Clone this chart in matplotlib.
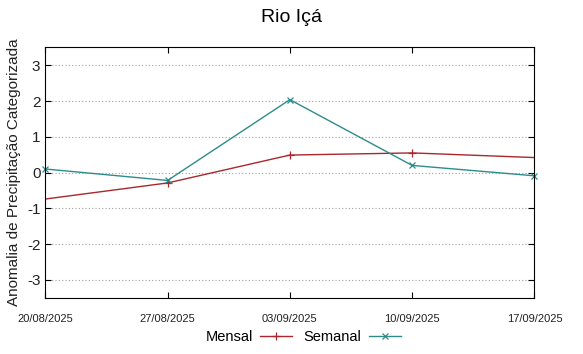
import matplotlib
matplotlib.use('Agg')
import matplotlib.pyplot as plt
import pandas as pd

font = {'family': 'Liberation Sans', 'size': 11}
matplotlib.rc('font', **font)
matplotlib.rcParams['axes.unicode_minus'] = False

datas = ['2025-08-20', '2025-08-27', '2025-09-03', '2025-09-10', '2025-09-17']
rotulos = ['20/08/2025', '27/08/2025', '03/09/2025', '10/09/2025', '17/09/2025']
mensal = [-0.74, -0.29, 0.49, 0.55, 0.42]
semanal = [0.10, -0.22, 2.04, 0.20, -0.09]

x = pd.to_datetime(datas)

fig = plt.figure(figsize=(5.83, 3.54), dpi=100)
ax = fig.add_axes([0.0777, 0.159, 0.839, 0.707])

ax.plot(x, mensal, color='#a8282e', linewidth=1, marker='+', markersize=6,
        markeredgewidth=0.9, markevery=[1, 2, 3], label='Mensal')
ax.plot(x, semanal, color='#2e8b8b', linewidth=1, marker='x', markersize=4.5,
        markeredgewidth=0.9, label='Semanal', clip_on=False)

ax.set_xlim(x[0], x[-1])
ax.set_ylim(-3.5, 3.5)
ax.set_yticks([-3, -2, -1, 0, 1, 2, 3])
ax.set_xticks(x)
ax.set_xticklabels(rotulos, fontsize=8)
ax.tick_params(axis='x', pad=12)
ax.tick_params(direction='in', top=True, right=True, length=4, width=0.8,
               labelcolor='#222222')
ax.grid(axis='y', linestyle=(0, (1, 2)), color='#a0a0a0', linewidth=0.8)
for s in ax.spines.values():
    s.set_linewidth(0.8)

ax.set_ylabel('Anomalia de Precipitação Categorizada', fontsize=11, color='#222222')
fig.suptitle('Rio Içá', fontsize=14, y=0.975)

fig.legend(loc='lower center', bbox_to_anchor=(0.52, -0.01), ncol=2, frameon=False,
           markerfirst=False, fontsize=10.5, handlelength=2.2, columnspacing=0.8,
           handletextpad=0.5)

plt.savefig('out.png', dpi=100)
